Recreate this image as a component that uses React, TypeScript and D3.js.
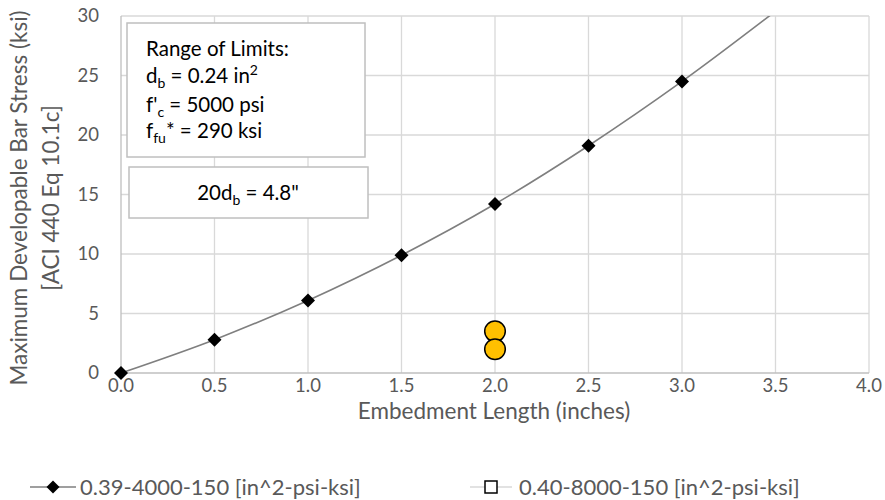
import React from 'react';
import * as d3 from 'd3';

// series 1: 0.39-4000-150, Excel smoothed line with diamonds
const lengths = [0, 0.5, 1.0, 1.5, 2.0, 2.5, 3.0, 3.5];
const stresses = [0, 2.8, 6.1, 9.9, 14.2, 19.1, 24.5, 30.4];
// test points (yellow circles)
const testLengths = [2.0, 2.0];
const testStresses = [3.5, 2.0];
const xTicks = [0, 0.5, 1.0, 1.5, 2.0, 2.5, 3.0, 3.5, 4.0];
const yTicks = [0, 5, 10, 15, 20, 25, 30];
const legendNames = ['0.39-4000-150 [in^2-psi-ksi]', '0.40-8000-150 [in^2-psi-ksi]'];

const W = 885, H = 500;
const FONT = 'Lato, "Open Sans", sans-serif';

export default function App() {
  const margin = { top: 16, right: 16, bottom: 127, left: 121 };
  const x = d3.scaleLinear().domain([0, 4]).range([margin.left, W - margin.right]);
  const y = d3.scaleLinear().domain([0, 30]).range([H - margin.bottom, margin.top]);

  const pts = lengths.map((l, i) => [l, stresses[i]] as [number, number]);
  const line = d3.line<[number, number]>()
    .x(d => x(d[0]))
    .y(d => y(d[1]))
    .curve(d3.curveCatmullRom.alpha(0.5));

  const diamond = (cx: number, cy: number, r = 7) =>
    `M${cx},${cy - r}L${cx + r},${cy}L${cx},${cy + r}L${cx - r},${cy}Z`;

  const midY = 198;
  const legY = 487;

  return (
    <svg width={W} height={H} style={{ position: 'absolute', left: 0, top: 0, background: '#fff' }}>
      <defs>
        <clipPath id="plot">
          <rect x={x(0) - 12} y={y(30)} width={x(4) - x(0) + 24} height={y(0) - y(30) + 12} />
        </clipPath>
      </defs>
      {/* grid */}
      <g stroke="#d9d9d9" strokeWidth={1.3}>
        {xTicks.slice(1).map(t => (
          <line key={'gx' + t} x1={x(t)} x2={x(t)} y1={y(0)} y2={y(30)} />
        ))}
        {yTicks.slice(1).map(t => (
          <line key={'gy' + t} x1={x(0)} x2={x(4)} y1={y(t)} y2={y(t)} />
        ))}
      </g>
      {/* axes */}
      <line x1={x(0)} x2={x(0)} y1={y(0)} y2={y(30)} stroke="#bfbfbf" strokeWidth={1.3} />
      <line x1={x(0)} x2={x(4)} y1={y(0)} y2={y(0)} stroke="#bfbfbf" strokeWidth={1.3} />
      <g fontFamily={FONT} fontSize={18.5} fill="#595959">
        {yTicks.map(t => (
          <text key={'ty' + t} x={99} y={y(t)} dy="0.35em" textAnchor="end">{t}</text>
        ))}
        {xTicks.map(t => (
          <text key={'tx' + t} x={x(t)} y={y(0) + 13} dy="0.35em" textAnchor="middle">{t.toFixed(1)}</text>
        ))}
      </g>
      {/* titles */}
      <g fontFamily={FONT} fontSize={22.5} fill="#595959" textAnchor="middle">
        <text x={494} y={419}>Embedment Length (inches)</text>
        <text transform={`translate(27,${midY}) rotate(-90)`}>Maximum Developable Bar Stress (ksi)</text>
        <text transform={`translate(59,${midY}) rotate(-90)`}>[ACI 440 Eq 10.1c]</text>
      </g>
      {/* series */}
      <g clipPath="url(#plot)">
        <path d={line(pts) || ''} fill="none" stroke="#7f7f7f" strokeWidth={1.6} />
        {pts.filter(d => d[1] <= 30).map((d, i) => (
          <path key={'m' + i} d={diamond(x(d[0]), y(d[1]))} fill="#000" />
        ))}
        {testLengths.map((l, i) => (
          <circle key={'c' + i} cx={x(l)} cy={y(testStresses[i])} r={10.3} fill="#ffc000" stroke="#000" strokeWidth={1.5} />
        ))}
      </g>
      {/* text boxes */}
      <g fontFamily={FONT} fontSize={20.5} fill="#000">
        <rect x={127} y={23} width={238} height={134} fill="#fff" stroke="#bfbfbf" strokeWidth={1.5} />
        <text x={146} y={56}>Range of Limits:</text>
        <text x={146} y={83}>d<tspan fontSize={14} dy={5}>b</tspan><tspan dy={-5}> = 0.24 in</tspan><tspan fontSize={14} dy={-8}>2</tspan></text>
        <text x={146} y={112}>f'<tspan fontSize={14} dy={5}>c</tspan><tspan dy={-5}> = 5000 psi</tspan></text>
        <text x={146} y={138}>f<tspan fontSize={14} dy={5}>fu</tspan><tspan dy={-5}>* = 290 ksi</tspan></text>
        <rect x={129} y={167} width={239} height={51} fill="#fff" stroke="#bfbfbf" strokeWidth={1.5} />
        <text x={248} y={200} textAnchor="middle">20d<tspan fontSize={14} dy={5}>b</tspan><tspan dy={-5}> = 4.8"</tspan></text>
      </g>
      {/* legend */}
      <g fontFamily={FONT} fontSize={22} fill="#595959">
        <line x1={30} x2={76} y1={legY} y2={legY} stroke="#7f7f7f" strokeWidth={1.6} />
        <path d={diamond(53, legY, 6.5)} fill="#000" />
        <text x={80} y={legY} dy="0.35em">{legendNames[0]}</text>
        <line x1={470} x2={512} y1={legY} y2={legY} stroke="#d9d9d9" strokeWidth={1.6} />
        <rect x={485} y={legY - 6} width={12} height={12} fill="#fff" stroke="#000" strokeWidth={1.5} />
        <text x={519} y={legY} dy="0.35em">{legendNames[1]}</text>
      </g>
    </svg>
  );
}
